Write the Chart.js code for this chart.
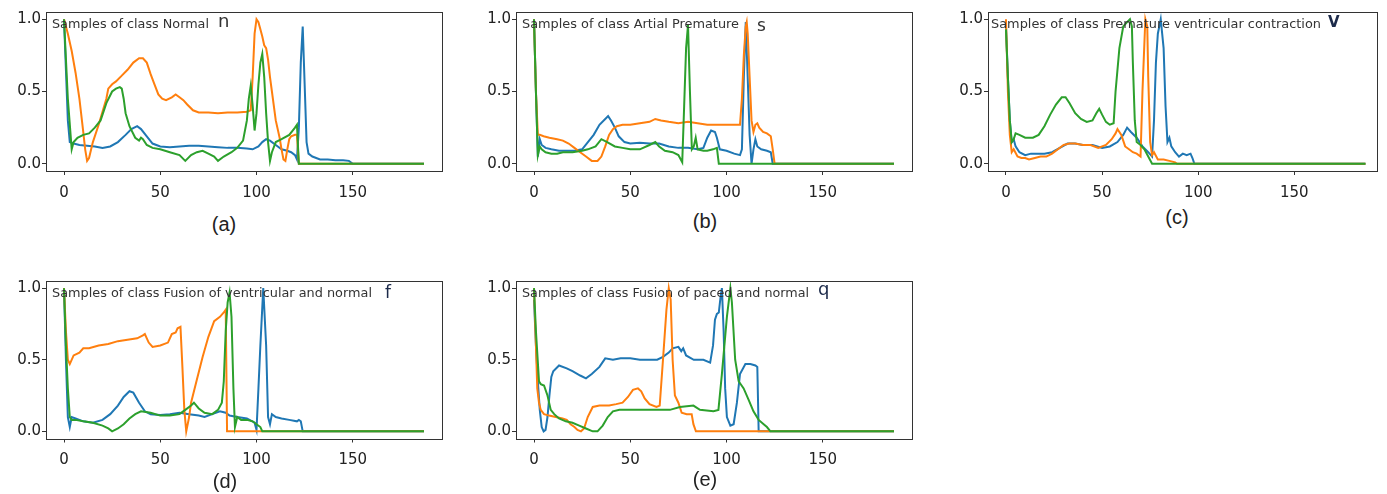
<!DOCTYPE html>
<html>
<head>
<meta charset="utf-8">
<script src="https://cdn.jsdelivr.net/npm/chart.js@4.4.1/dist/chart.umd.min.js"></script>
<style>
  body { margin: 0; background: #fff; }
  #wrap { position: relative; width: 1387px; height: 494px; overflow: hidden; background: #fff; }
  #wrap canvas { position: absolute; }
  .cap { position: absolute; font: 20px 'Liberation Sans', sans-serif; color: #222; transform: translate(-50%, -50%); white-space: nowrap; }
</style>
</head>
<body>
<div id="wrap"></div>
<script>
// tick labels
const xTickValues = [0, 50, 100, 150];
const yTickValues = [0, 0.5, 1.0];

// panel texts
const panelTitles = [
    'Samples of class Normal',
    'Samples of class Artial Premature',
    'Samples of class Premature ventricular contraction',
    'Samples of class Fusion of ventricular and normal',
    'Samples of class Fusion of paced and normal'
];
const panelLetters = ['n', 's', 'V', 'f', 'q'];
const panelCaptions = ['(a)', '(b)', '(c)', '(d)', '(e)'];
const seriesColors = ['#1f77b4', '#ff7f0e', '#2ca02c'];

// (a) Normal
const normalBlueX = [0, 2, 3, 5, 8, 12, 16, 20, 24, 28, 32, 35, 38, 40, 43, 46, 50, 55, 60, 65, 70, 75, 80, 85, 90, 95, 98, 101, 103, 105, 107, 110, 113, 116, 118, 120, 121, 122, 123, 124, 125, 126, 127, 129, 133, 137, 141, 145, 148, 150, 187];
const normalBlueY = [1.0, 0.3, 0.15, 0.14, 0.13, 0.125, 0.12, 0.11, 0.12, 0.15, 0.2, 0.24, 0.26, 0.24, 0.19, 0.14, 0.12, 0.115, 0.12, 0.125, 0.125, 0.12, 0.115, 0.11, 0.11, 0.105, 0.1, 0.12, 0.15, 0.17, 0.16, 0.13, 0.1, 0.09, 0.08, 0.06, 0.03, 0.25, 0.7, 0.95, 0.55, 0.15, 0.07, 0.05, 0.03, 0.03, 0.025, 0.025, 0.02, 0.0, 0.0];
const normalOrangeX = [0, 2, 4, 6, 8, 10, 11, 12, 13, 15, 18, 20, 22, 23, 25, 27, 30, 33, 36, 39, 41, 43, 45, 47, 49, 51, 53, 56, 58, 60, 62, 64, 67, 70, 75, 80, 85, 90, 95, 97, 98, 99, 100, 101, 102, 103, 104, 105, 106, 107, 108, 110, 112, 113, 114, 115, 116, 117, 118, 120, 121, 122, 187];
const normalOrangeY = [1.0, 0.9, 0.78, 0.63, 0.45, 0.22, 0.1, 0.02, 0.04, 0.15, 0.27, 0.36, 0.45, 0.52, 0.55, 0.57, 0.61, 0.65, 0.7, 0.73, 0.73, 0.7, 0.62, 0.55, 0.48, 0.45, 0.44, 0.46, 0.48, 0.46, 0.44, 0.41, 0.37, 0.355, 0.355, 0.35, 0.355, 0.355, 0.36, 0.37, 0.6, 0.9, 1.0, 0.98, 0.93, 0.88, 0.82, 0.8, 0.72, 0.6, 0.5, 0.3, 0.18, 0.1, 0.03, 0.02, 0.1, 0.17, 0.19, 0.2, 0.2, 0.0, 0.0];
const normalGreenX = [0, 2, 4, 5, 7, 10, 13, 16, 19, 22, 25, 27, 29, 30, 31, 32, 34, 37, 39, 40, 41, 43, 46, 50, 55, 60, 63, 66, 69, 72, 75, 78, 80, 83, 87, 90, 93, 95, 96, 97, 98, 99, 100, 101, 102, 103, 104, 105, 106, 107, 108, 110, 113, 117, 120, 121, 122, 187];
const normalGreenY = [1.0, 0.45, 0.1, 0.15, 0.18, 0.2, 0.21, 0.25, 0.3, 0.42, 0.5, 0.52, 0.53, 0.52, 0.45, 0.35, 0.26, 0.18, 0.16, 0.18, 0.17, 0.13, 0.11, 0.1, 0.08, 0.06, 0.02, 0.06, 0.08, 0.09, 0.07, 0.05, 0.02, 0.05, 0.08, 0.11, 0.16, 0.3, 0.45, 0.54, 0.4, 0.23, 0.35, 0.55, 0.7, 0.76, 0.6, 0.35, 0.15, 0.02, 0.08, 0.15, 0.17, 0.2, 0.25, 0.27, 0.0, 0.0];

// (b) Artial Premature
const premBlueX = [0, 1, 2, 3, 4, 6, 9, 13, 17, 21, 25, 28, 31, 34, 37, 38.5, 40, 42, 44, 47, 50, 55, 60, 65, 70, 75, 80, 85, 88, 90, 92, 94, 95, 96.5, 100, 104, 107, 108, 109, 110, 111, 112, 113, 114, 115, 116, 118, 121, 123, 124, 187];
const premBlueY = [1.0, 0.5, 0.05, 0.17, 0.13, 0.11, 0.1, 0.09, 0.09, 0.09, 0.1, 0.15, 0.2, 0.27, 0.31, 0.33, 0.3, 0.25, 0.19, 0.15, 0.14, 0.145, 0.14, 0.14, 0.12, 0.11, 0.11, 0.1, 0.11, 0.18, 0.23, 0.22, 0.18, 0.1, 0.09, 0.07, 0.06, 0.1, 0.6, 0.98, 0.6, 0.2, 0.0, 0.1, 0.17, 0.12, 0.1, 0.09, 0.08, 0.0, 0.0];
const premOrangeX = [0, 1, 2, 3, 5, 8, 12, 15, 18, 21, 24, 27, 30, 33, 35, 37, 39, 41, 43, 46, 50, 55, 60, 63, 66, 70, 75, 80, 85, 90, 95, 100, 104, 107, 108, 109, 110, 110.5, 111, 112, 113, 114, 115, 116, 117, 119, 121, 123, 124, 125, 187];
const premOrangeY = [1.0, 0.5, 0.2, 0.2, 0.19, 0.18, 0.17, 0.16, 0.14, 0.11, 0.08, 0.05, 0.02, 0.02, 0.05, 0.12, 0.2, 0.24, 0.26, 0.27, 0.27, 0.28, 0.29, 0.31, 0.3, 0.29, 0.28, 0.29, 0.28, 0.27, 0.27, 0.27, 0.27, 0.27, 0.45, 0.75, 0.95, 0.98, 0.9, 0.6, 0.3, 0.22, 0.27, 0.28, 0.25, 0.22, 0.21, 0.19, 0.1, 0.0, 0.0];
const premGreenX = [0, 1, 2, 3, 4, 6, 9, 12, 15, 20, 25, 28, 32, 35, 38, 42, 46, 50, 55, 60, 63, 65, 68, 72, 75, 77, 78, 79, 80, 81, 82, 83, 84, 85, 88, 90, 93, 95, 96, 187];
const premGreenY = [1.0, 0.5, 0.06, 0.12, 0.1, 0.08, 0.07, 0.07, 0.08, 0.08, 0.09, 0.1, 0.12, 0.17, 0.15, 0.12, 0.11, 0.1, 0.1, 0.13, 0.15, 0.12, 0.09, 0.08, 0.06, 0.01, 0.4, 0.8, 0.96, 0.5, 0.1, 0.12, 0.18, 0.1, 0.09, 0.09, 0.1, 0.11, 0.0, 0.0];

// (c) Premature ventricular contraction
const pvcBlueX = [0, 1, 2, 3, 4, 5, 7, 10, 13, 16, 20, 24, 28, 32, 36, 40, 45, 50, 54, 58, 61, 63, 65, 68, 71, 74, 76, 77, 78, 79, 80.5, 82, 83, 84, 85, 86, 88, 90, 92, 94, 96, 97, 98, 187];
const pvcBlueY = [0.95, 0.6, 0.3, 0.15, 0.17, 0.12, 0.08, 0.06, 0.07, 0.07, 0.07, 0.08, 0.11, 0.14, 0.14, 0.13, 0.13, 0.11, 0.12, 0.15, 0.2, 0.25, 0.22, 0.18, 0.12, 0.08, 0.05, 0.3, 0.7, 0.9, 1.0, 0.8, 0.4, 0.15, 0.18, 0.12, 0.08, 0.05, 0.07, 0.06, 0.07, 0.04, 0.0, 0.0];
const pvcOrangeX = [0, 1, 2, 3, 4, 6, 8, 10, 12, 15, 18, 21, 24, 27, 30, 33, 36, 40, 44, 48, 52, 55, 57, 58, 60, 62, 64, 66, 68, 70, 71, 72.5, 73.5, 74, 75, 76, 77, 79, 82, 85, 88, 89, 187];
const pvcOrangeY = [1.0, 0.5, 0.2, 0.08, 0.1, 0.05, 0.04, 0.04, 0.03, 0.04, 0.05, 0.05, 0.07, 0.1, 0.13, 0.14, 0.14, 0.13, 0.13, 0.11, 0.13, 0.17, 0.21, 0.24, 0.2, 0.12, 0.1, 0.08, 0.07, 0.05, 0.5, 1.0, 0.95, 0.6, 0.15, 0.06, 0.08, 0.03, 0.03, 0.02, 0.01, 0.0, 0.0];
const pvcGreenX = [0, 1, 2, 3, 4, 5, 7, 10, 14, 17, 20, 23, 26, 29, 31, 33, 36, 39, 42, 45, 47, 48.5, 50, 52, 54, 56, 57, 59, 61, 63, 64.5, 65.5, 66, 67, 68, 70, 72, 74, 76, 187];
const pvcGreenY = [0.93, 0.6, 0.3, 0.15, 0.17, 0.21, 0.2, 0.18, 0.18, 0.2, 0.26, 0.34, 0.41, 0.46, 0.46, 0.42, 0.35, 0.31, 0.29, 0.3, 0.35, 0.38, 0.34, 0.29, 0.27, 0.28, 0.5, 0.8, 0.95, 0.98, 1.0, 0.95, 0.7, 0.3, 0.15, 0.13, 0.1, 0.05, 0.0, 0.0];

// (d) Fusion of ventricular and normal
const fusionBlueX = [0, 1, 2, 3, 4, 6, 10, 15, 20, 24, 28, 31, 34, 36, 39, 42, 45, 50, 55, 60, 65, 70, 73, 77, 81, 84, 86, 90, 95, 99, 100, 101, 102, 103.5, 105, 106, 107, 108, 110, 113, 117, 121, 122, 123, 124, 187];
const fusionBlueY = [1.0, 0.5, 0.1, 0.03, 0.1, 0.09, 0.07, 0.06, 0.08, 0.12, 0.18, 0.24, 0.28, 0.27, 0.2, 0.14, 0.12, 0.115, 0.12, 0.13, 0.12, 0.11, 0.1, 0.12, 0.14, 0.13, 0.11, 0.1, 0.09, 0.06, 0.01, 0.3, 0.6, 1.0, 0.6, 0.1, 0.05, 0.12, 0.1, 0.09, 0.08, 0.07, 0.08, 0.07, 0.0, 0.0];
const fusionOrangeX = [0, 1, 2, 3, 5, 8, 10, 13, 18, 23, 28, 33, 38, 41, 42, 44, 46, 50, 54, 56, 58, 59, 60.5, 61.5, 62.5, 63.5, 65, 66, 69, 72, 75, 78, 81, 83, 84, 84.7, 187];
const fusionOrangeY = [1.0, 0.7, 0.5, 0.47, 0.53, 0.55, 0.58, 0.58, 0.6, 0.61, 0.63, 0.64, 0.65, 0.67, 0.68, 0.62, 0.59, 0.6, 0.62, 0.68, 0.69, 0.72, 0.73, 0.45, 0.15, 0.0, 0.1, 0.2, 0.36, 0.52, 0.66, 0.77, 0.8, 0.83, 0.85, 0.0, 0.0];
const fusionGreenX = [0, 1, 2, 3, 4, 6, 10, 15, 20, 23, 25, 28, 31, 34, 37, 40, 45, 50, 55, 60, 63, 66, 67.5, 70, 73, 77, 80, 82, 83, 84, 85, 86, 87, 88, 88.8, 90, 92, 95, 98, 100, 102, 103, 187];
const fusionGreenY = [1.0, 0.6, 0.3, 0.1, 0.08, 0.08, 0.07, 0.06, 0.04, 0.02, 0.0, 0.02, 0.05, 0.09, 0.12, 0.14, 0.13, 0.11, 0.11, 0.12, 0.15, 0.18, 0.2, 0.16, 0.13, 0.12, 0.15, 0.2, 0.35, 0.7, 0.9, 0.97, 0.8, 0.3, 0.03, 0.1, 0.08, 0.08, 0.07, 0.05, 0.03, 0.0, 0.0];

// (e) Fusion of paced and normal
const pacedBlueX = [0, 1, 2, 3, 4, 5, 6, 7, 8, 9, 10, 13, 17, 20, 24, 27, 30, 34, 37, 41, 45, 50, 55, 60, 64, 67, 70, 72, 75, 76.5, 77.5, 79, 83, 88, 91.5, 93, 94, 95, 96, 97, 97.6, 98.5, 99.3, 100.2, 102, 103.7, 105.4, 107, 109.8, 112.4, 115, 116, 116.7, 187];
const pacedBlueY = [0.92, 0.6, 0.35, 0.15, 0.03, 0.0, 0.01, 0.1, 0.25, 0.38, 0.42, 0.46, 0.44, 0.42, 0.39, 0.37, 0.4, 0.45, 0.51, 0.5, 0.51, 0.51, 0.5, 0.5, 0.5, 0.52, 0.55, 0.58, 0.59, 0.56, 0.58, 0.53, 0.5, 0.5, 0.48, 0.6, 0.78, 0.82, 0.83, 0.95, 1.0, 0.7, 0.3, 0.1, 0.04, 0.05, 0.2, 0.4, 0.47, 0.47, 0.46, 0.45, 0.0, 0.0];
const pacedOrangeX = [0, 1, 1.7, 2.6, 3.5, 5.2, 7.8, 11.3, 14.8, 17, 19, 21, 22.6, 24.4, 26, 27.9, 30.5, 34, 39, 42.7, 46, 48.8, 51.4, 54, 55.7, 57.5, 60, 63.6, 65.3, 67, 68.8, 70, 71, 72, 73.2, 75, 76.7, 79.3, 81.9, 82.8, 84.1, 187];
const pacedOrangeY = [1.0, 0.6, 0.3, 0.2, 0.15, 0.12, 0.11, 0.1, 0.09, 0.08, 0.05, 0.03, 0.01, 0.0, 0.02, 0.1, 0.17, 0.18, 0.18, 0.19, 0.2, 0.24, 0.29, 0.3, 0.28, 0.23, 0.19, 0.17, 0.18, 0.5, 0.85, 1.0, 0.92, 0.5, 0.25, 0.2, 0.13, 0.12, 0.12, 0.05, 0.0, 0.0];
const pacedGreenX = [0, 1, 2.6, 3.5, 5.2, 7, 8.7, 10.5, 13, 16.5, 20, 23.5, 27, 30.5, 33, 35.7, 38.3, 41, 44.4, 50, 58.4, 65, 70.6, 75.8, 82.8, 86.2, 93.2, 95.8, 97.6, 100.2, 102, 102.8, 104.5, 106.3, 108.9, 111.5, 114, 116.7, 119.3, 121, 122.8, 187];
const pacedGreenY = [1.0, 0.7, 0.35, 0.33, 0.32, 0.25, 0.15, 0.12, 0.09, 0.07, 0.06, 0.04, 0.02, 0.0, 0.0, 0.04, 0.1, 0.14, 0.15, 0.15, 0.15, 0.15, 0.15, 0.17, 0.18, 0.15, 0.14, 0.15, 0.4, 0.8, 1.0, 0.9, 0.5, 0.35, 0.3, 0.22, 0.14, 0.08, 0.05, 0.03, 0.0, 0.0];

const panelSeries = [
    [[normalBlueX, normalBlueY], [normalOrangeX, normalOrangeY], [normalGreenX, normalGreenY]],
    [[premBlueX, premBlueY], [premOrangeX, premOrangeY], [premGreenX, premGreenY]],
    [[pvcBlueX, pvcBlueY], [pvcOrangeX, pvcOrangeY], [pvcGreenX, pvcGreenY]],
    [[fusionBlueX, fusionBlueY], [fusionOrangeX, fusionOrangeY], [fusionGreenX, fusionGreenY]],
    [[pacedBlueX, pacedBlueY], [pacedOrangeX, pacedOrangeY], [pacedGreenX, pacedGreenY]]
];

// layout of each subplot (canvas placement, axis box, text placement)
const panelLayout = [
    { left: 0,   top: 0,   w: 450, h: 200, padTop: 12, padRight: 8,  xMax: 196.35, titleDx: 6, titleW: 157, letterDx: 172, letterDy: 15, letterFont: '18px "DejaVu Sans"', letterColor: '#333', capX: 224,  capY: 224 },
    { left: 470, top: 0,   w: 450, h: 200, padTop: 12, padRight: 8,  xMax: 196.35, titleDx: 6, titleW: 217, letterDx: 241, letterDy: 19, letterFont: '17px "DejaVu Sans"', letterColor: '#333', capX: 705,  capY: 221 },
    { left: 942, top: 0,   w: 445, h: 200, padTop: 12, padRight: 10, xMax: 193,    titleDx: 3, titleW: 330, letterDx: 340, letterDy: 15, letterFont: 'bold 15px "DejaVu Sans"', letterColor: '#1c2a4a', capX: 1177, capY: 217 },
    { left: 0,   top: 270, w: 450, h: 200, padTop: 11, padRight: 8,  xMax: 196.35, titleDx: 6, titleW: 320, letterDx: 339, letterDy: 17, letterFont: '17px "DejaVu Sans"', letterColor: '#1c2a4a', capX: 225,  capY: 481 },
    { left: 470, top: 270, w: 450, h: 200, padTop: 11, padRight: 8,  xMax: 196.35, titleDx: 6, titleW: 287, letterDx: 302, letterDy: 14, letterFont: '18px "DejaVu Sans"', letterColor: '#1c2a4a', capX: 705,  capY: 479 }
];

// box around the axes plus the in-axes title
const framePlugin = {
    id: 'frame',
    afterDatasetsDraw(chart, args, opts) {
        const ctx = chart.ctx;
        const a = chart.chartArea;
        ctx.save();
        ctx.strokeStyle = '#333';
        ctx.lineWidth = 1;
        ctx.strokeRect(Math.round(a.left) + 0.5, Math.round(a.top) + 0.5,
            Math.round(a.right - a.left), Math.round(a.bottom - a.top));
        ctx.fillStyle = '#333';
        ctx.textBaseline = 'alphabetic';
        ctx.font = '13px "DejaVu Sans"';
        ctx.fillText(opts.title, a.left + opts.titleDx, a.top + 15.5, opts.titleW);
        ctx.fillStyle = opts.letterColor;
        ctx.font = opts.letterFont;
        ctx.fillText(opts.letter, a.left + opts.letterDx, a.top + opts.letterDy);
        ctx.restore();
    }
};

function makePanel(i) {
    const lay = panelLayout[i];
    const wrap = document.getElementById('wrap');
    const canvas = document.createElement('canvas');
    canvas.width = lay.w;
    canvas.height = lay.h;
    canvas.style.left = lay.left + 'px';
    canvas.style.top = lay.top + 'px';
    wrap.appendChild(canvas);

    const cap = document.createElement('div');
    cap.className = 'cap';
    cap.textContent = panelCaptions[i];
    cap.style.left = lay.capX + 'px';
    cap.style.top = lay.capY + 'px';
    wrap.appendChild(cap);

    const datasets = panelSeries[i].map((s, k) => ({
        data: s[0].map((x, j) => ({ x: x, y: s[1][j] })),
        borderColor: seriesColors[k],
        borderWidth: 2,
        pointRadius: 0,
        tension: 0,
        fill: false,
        order: 3 - k
    }));

    const tickFont = { family: 'DejaVu Sans', size: 15 };
    const gridStyle = { display: true, drawOnChartArea: false, drawTicks: true, tickLength: 4, color: '#333', lineWidth: 1 };

    new Chart(canvas.getContext('2d'), {
        type: 'line',
        data: { datasets: datasets },
        options: {
            responsive: false,
            animation: false,
            devicePixelRatio: 1,
            layout: { padding: { top: lay.padTop, right: lay.padRight, left: 0, bottom: 0 } },
            scales: {
                x: {
                    type: 'linear',
                    min: -9.35,
                    max: lay.xMax,
                    afterBuildTicks: s => { s.ticks = xTickValues.map(v => ({ value: v })); },
                    afterFit: s => { s.height = lay.h - 171 + (lay.top ? 2.5 : 0); },
                    grid: gridStyle,
                    border: { display: false },
                    ticks: { color: '#222', font: tickFont, padding: 9, maxRotation: 0, autoSkip: false,
                        callback: v => String(v) }
                },
                y: {
                    type: 'linear',
                    min: -0.05,
                    max: 1.05,
                    afterBuildTicks: s => { s.ticks = yTickValues.map(v => ({ value: v })); },
                    afterFit: s => { s.width = 46; },
                    grid: gridStyle,
                    border: { display: false },
                    ticks: { color: '#222', font: tickFont, padding: 1, autoSkip: false,
                        callback: v => v.toFixed(1) }
                }
            },
            plugins: {
                legend: { display: false },
                tooltip: { enabled: false },
                frame: {
                    title: panelTitles[i],
                    titleDx: lay.titleDx,
                    titleW: lay.titleW,
                    letter: panelLetters[i],
                    letterDx: lay.letterDx,
                    letterDy: lay.letterDy,
                    letterFont: lay.letterFont,
                    letterColor: lay.letterColor
                }
            }
        },
        plugins: [framePlugin]
    });
}

document.addEventListener('DOMContentLoaded', function() {
    for (let i = 0; i < panelTitles.length; i++) {
        makePanel(i);
    }
});
</script>
</body>
</html>
